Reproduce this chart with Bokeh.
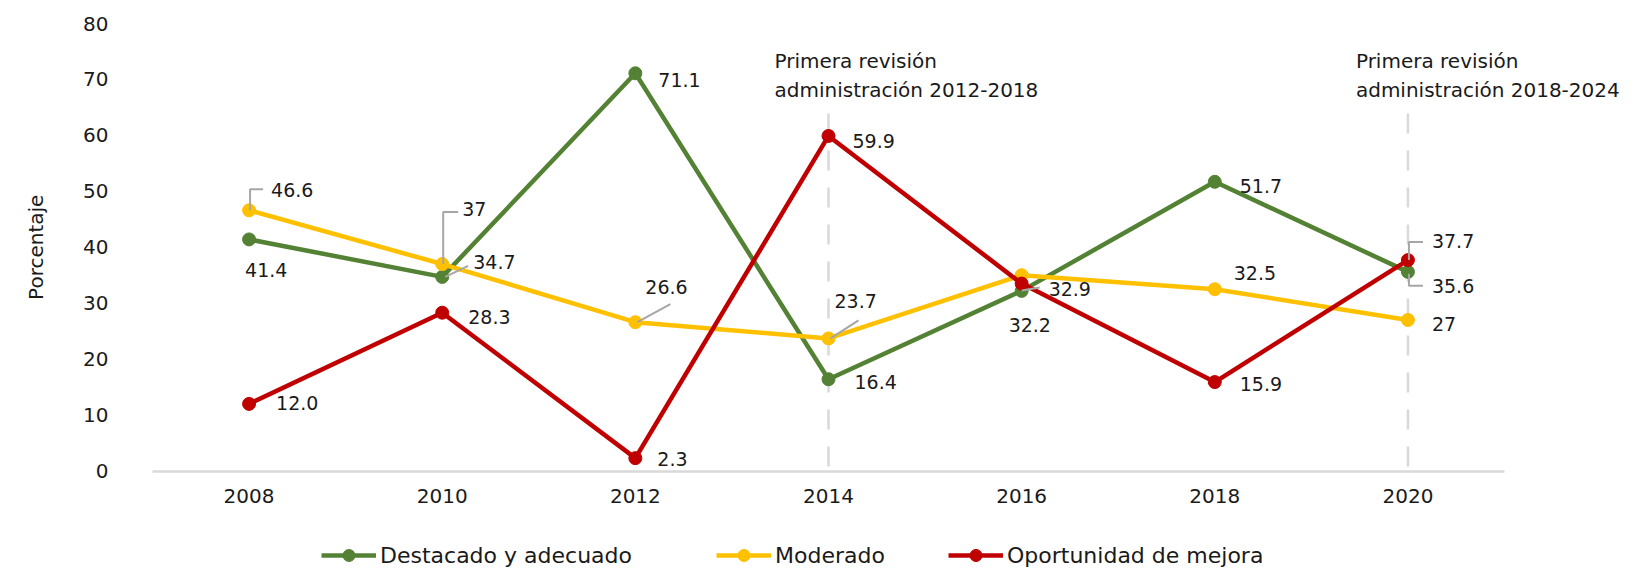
import math
from bokeh.plotting import figure
from bokeh.models import Range1d, FixedTicker, Legend, LegendItem
from bokeh.core.properties import value
from bokeh.embed import file_html
from bokeh.resources import INLINE

# ---------------- data ----------------
years = [2008, 2010, 2012, 2014, 2016, 2018, 2020]
destacado = [41.4, 34.7, 71.1, 16.4, 32.2, 51.7, 35.6]
moderado = [46.6, 37.0, 26.6, 23.7, 35.0, 32.5, 27.0]
oportunidad = [12.0, 28.3, 2.3, 59.9, 33.5, 15.9, 37.7]

destacado_labels = ["41.4", "34.7", "71.1", "16.4", "32.2", "51.7", "35.6"]
moderado_labels = ["46.6", "37", "26.6", "23.7", "", "32.5", "27"]
oportunidad_labels = ["12.0", "28.3", "2.3", "59.9", "32.9", "15.9", "37.7"]

series_names = ["Destacado y adecuado", "Moderado", "Oportunidad de mejora"]
y_ticks = [0, 10, 20, 30, 40, 50, 60, 70, 80]
x_ticks = years
y_axis_title = "Porcentaje"

revision_years = [2014, 2020]
revision_line1 = ["Primera revisión", "Primera revisión"]
revision_line2 = ["administración 2012-2018", "administración 2018-2024"]

# ---------------- layout / style ----------------
FONT = "DejaVu Sans"
COLORS = ["#548235", "#FFC000", "#C00000"]
TXT = "#1a1a1a"
LEADER = "#a6a6a6"
AXIS_GREY = "#d9d9d9"

W, H = 1640, 571
# plot area of the axes: x 2007..2021 over px 152..1504, y 0..80 over px 470.5..23
XA0, XA1, PX_L, PX_R = 2007, 2021, 152, 1504
YA0, YA1, PX_B, PX_T = 0, 80, 470.5, 23
xpp = (XA1 - XA0) / (PX_R - PX_L)
ypp = (YA1 - YA0) / (PX_B - PX_T)
# the frame covers the whole canvas so that notes, title and legend are not clipped
X0, X1 = XA0 - PX_L * xpp, XA0 + (W - PX_L) * xpp
Y0, Y1 = YA0 - (H - PX_B) * ypp, YA1 + PX_T * ypp

p = figure(width=W, height=H, x_range=Range1d(X0, X1), y_range=Range1d(Y0, Y1),
           output_backend="svg", toolbar_location=None,
           min_border_left=0, min_border_right=0, min_border_top=0, min_border_bottom=0)
p.outline_line_color = None
p.xgrid.visible = False
p.ygrid.visible = False
p.background_fill_color = "white"
p.border_fill_color = "white"

# y axis, fixed at the left end of the x axis
p.yaxis.fixed_location = XA0
p.yaxis.bounds = (YA0, YA1)
p.yaxis.ticker = FixedTicker(ticks=y_ticks)
p.yaxis.axis_line_color = None
p.yaxis.major_tick_line_color = None
p.yaxis.major_tick_out = 0
p.yaxis.major_tick_in = 0
p.yaxis.minor_tick_line_color = None
p.yaxis.major_label_standoff = 44
p.yaxis.major_label_text_font = FONT
p.yaxis.major_label_text_font_size = "20px"
p.yaxis.major_label_text_color = TXT

# x axis, fixed at y = 0
p.xaxis.fixed_location = YA0
p.xaxis.bounds = (XA0, XA1)
p.xaxis.ticker = FixedTicker(ticks=x_ticks)
p.xaxis.axis_line_color = AXIS_GREY
p.xaxis.axis_line_width = 2.5
p.xaxis.major_tick_line_color = None
p.xaxis.major_tick_out = 0
p.xaxis.major_tick_in = 0
p.xaxis.minor_tick_line_color = None
p.xaxis.major_label_standoff = 18
p.xaxis.major_label_text_font = FONT
p.xaxis.major_label_text_font_size = "20px"
p.xaxis.major_label_text_color = TXT

# y axis title
p.text(x=[XA0], y=[(YA0 + YA1) / 2], text=[y_axis_title], angle=math.pi / 2,
       x_offset=-117, text_font=value(FONT), text_font_size="20px", text_color=TXT,
       text_align="center", text_baseline="middle")

# dashed revision lines (drawn from the top so the dash pattern starts there)
dash_top = YA1 - 90 * ypp
p.segment(x0=revision_years, y0=[dash_top] * len(revision_years), x1=revision_years,
          y1=[YA0] * len(revision_years), line_color=AXIS_GREY, line_width=2.5,
          line_dash="20 17")

# revision notes
p.text(x=revision_years, y=[YA1] * len(revision_years), text=revision_line1,
       x_offset=[-54, -52], y_offset=37, text_font=value(FONT), text_font_size="20px",
       text_color=TXT, text_baseline="middle", text_align="left")
p.text(x=revision_years, y=[YA1] * len(revision_years), text=revision_line2,
       x_offset=[-54, -52], y_offset=66, text_font=value(FONT), text_font_size="20px",
       text_color=TXT, text_baseline="middle", text_align="left")

# series
all_vals = [destacado, moderado, oportunidad]
all_labels = [destacado_labels, moderado_labels, oportunidad_labels]
line_rs, dot_rs = [], []
for vals, col in zip(all_vals, COLORS):
    lr = p.line(years, vals, line_color=col, line_width=4.5)
    dr = p.scatter(years, vals, size=13, fill_color=col, line_color=col)
    line_rs.append(lr)
    dot_rs.append(dr)

# leader lines (series index, point index, path in px offsets: +x right, +y down)
leaders = [
    (1, 0, [(1, 0), (1, -21), (14, -21)]),
    (1, 1, [(1, 0), (1, -52), (16, -52)]),
    (0, 1, [(3, 0), (26, -11)]),
    (1, 2, [(2, 0), (35, -18)]),
    (1, 3, [(2, 0), (30, -18)]),
    (2, 4, [(0, 7), (18, 4)]),
    (2, 6, [(1, 0), (1, -18), (15, -18)]),
    (0, 6, [(1, 2), (1, 14), (15, 14)]),
]
lxs, lys = [], []
for si, pi, path in leaders:
    x0 = years[pi]
    y0 = all_vals[si][pi]
    lxs.append([x0 + dx * xpp for dx, dy in path])
    lys.append([y0 - dy * ypp for dx, dy in path])
p.multi_line(xs=lxs, ys=lys, line_color=LEADER, line_width=2)

# data label offsets (px; text left edge / vertical middle)
offsets = [
    [(-4, 31), (31, -15), (23, 7), (26, 3), (-13, 34), (25, 4), (24, 14)],
    [(22, -20), (20, -55), (10, -35), (6, -37), (0, 0), (19, -16), (24, 4)],
    [(27, -1), (26, 4), (22, 1), (24, 5), (27, 5), (25, 2), (24, -19)],
]
for vals, labs, offs in zip(all_vals, all_labels, offsets):
    p.text(x=years, y=vals, text=labs, x_offset=[o[0] for o in offs],
           y_offset=[o[1] for o in offs], text_font=value(FONT), text_font_size="19px",
           text_color=TXT, text_baseline="middle", text_align="left")

# legend entries, one box each, placed along the bottom of the canvas
legend_x = [321, 716, 948]
for name, lr, dr, lx in zip(series_names, line_rs, dot_rs, legend_x):
    lg = Legend(items=[LegendItem(label=name, renderers=[lr, dr])], location=(lx, 1),
                orientation="horizontal", glyph_width=55, glyph_height=30,
                label_standoff=4, padding=0, margin=0, spacing=0,
                border_line_color=None, background_fill_alpha=0,
                label_text_font=FONT, label_text_font_size="22px",
                label_text_color=TXT, label_height=30)
    p.add_layout(lg, "center")

open("out.html", "w").write(file_html(p, INLINE))
